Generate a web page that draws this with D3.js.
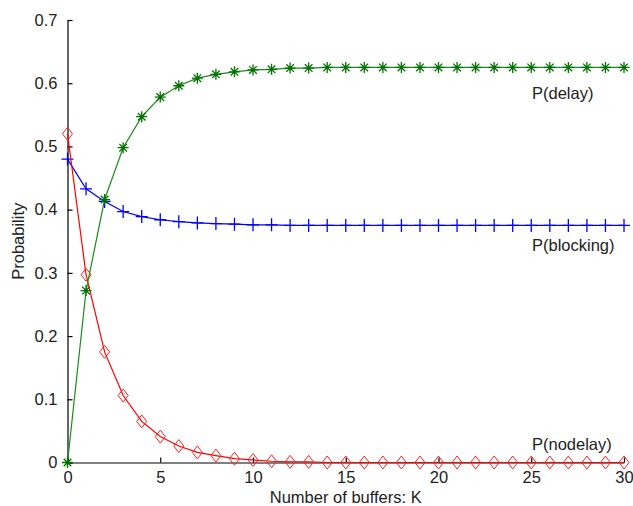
<!DOCTYPE html>
<html>
<head>
<meta charset="utf-8">
<script src="https://cdn.jsdelivr.net/npm/d3@7"></script>
<style>
  html, body { margin: 0; padding: 0; background: #fff; }
  svg { display: block; }
  text { font-family: "Liberation Sans", Arial, sans-serif; font-size: 16.5px; fill: #222; }
</style>
</head>
<body>
<svg id="chart" width="633" height="506"></svg>
<script>
// Number of buffers K
const buffers = [0, 1, 2, 3, 4, 5, 6, 7, 8, 9, 10, 11, 12, 13, 14, 15, 16, 17, 18, 19, 20,
                 21, 22, 23, 24, 25, 26, 27, 28, 29, 30];

// Probability that an arriving call has to wait
const pDelay = [0, 0.272, 0.416, 0.498, 0.547, 0.578, 0.596, 0.608, 0.614, 0.618, 0.621,
                0.622, 0.624, 0.624, 0.625, 0.625, 0.625, 0.625, 0.625, 0.625, 0.625,
                0.625, 0.625, 0.625, 0.625, 0.625, 0.625, 0.625, 0.625, 0.625, 0.625];

// Probability that an arriving call is blocked
const pBlocking = [0.48, 0.433, 0.413, 0.397, 0.389, 0.384, 0.381, 0.379, 0.378, 0.377, 0.376,
                   0.376, 0.375, 0.375, 0.375, 0.375, 0.375, 0.375, 0.375, 0.375, 0.375,
                   0.375, 0.375, 0.375, 0.375, 0.375, 0.375, 0.375, 0.375, 0.375, 0.375];

// Probability that an arriving call is served immediately
const pNodelay = [0.52, 0.297, 0.175, 0.106, 0.065, 0.041, 0.026, 0.016, 0.011, 0.006, 0.004,
                  0.002, 0.001, 0.001, 0, 0, 0, 0, 0, 0, 0,
                  0, 0, 0, 0, 0, 0, 0, 0, 0, 0];

const xTicks = [0, 5, 10, 15, 20, 25, 30];
const yTicks = [0, 0.1, 0.2, 0.3, 0.4, 0.5, 0.6, 0.7];

const svg = d3.select("#chart");

const x = d3.scaleLinear().domain([0, 30]).range([67.5, 624]);
const y = d3.scaleLinear().domain([0, 0.7]).range([462.5, 20]);

// Axes: left and bottom only, ticks pointing inward
const xAxis = svg.append("g")
  .attr("transform", `translate(0,${y(0)})`)
  .call(d3.axisBottom(x).tickValues(xTicks).tickSizeInner(-5).tickSizeOuter(0).tickPadding(10)
        .tickFormat(d3.format("d")));
const yAxis = svg.append("g")
  .attr("transform", `translate(${x(0)},0)`)
  .call(d3.axisLeft(y).tickValues(yTicks).tickSizeInner(-5).tickSizeOuter(0).tickPadding(10)
        .tickFormat(d => d === 0 ? "0" : d3.format(".1f")(d)));

[xAxis, yAxis].forEach(g => {
  g.selectAll("path.domain").attr("stroke", "#000").attr("stroke-width", 1.2);
  g.selectAll(".tick line").attr("stroke", "#000").attr("stroke-width", 1.2);
  g.selectAll(".tick text").attr("font-size", 16.5).attr("font-family", "Liberation Sans, Arial, sans-serif")
    .attr("fill", "#222");
});
xAxis.selectAll(".tick text").attr("y", 20).attr("dy", 0);

// Axis titles
svg.append("text")
  .attr("x", (x(0) + x(30)) / 2).attr("y", 503)
  .attr("text-anchor", "middle")
  .text("Number of buffers: K");
svg.append("text")
  .attr("transform", `translate(24,${(y(0) + y(0.7)) / 2}) rotate(-90)`)
  .attr("text-anchor", "middle")
  .text("Probability");

const line = vals => d3.line().x((d, i) => x(buffers[i])).y(d => y(d))(vals);

// Blocking: blue line with plus markers
svg.append("path").attr("d", line(pBlocking))
  .attr("fill", "none").attr("stroke", "#0000ff").attr("stroke-width", 1.2);
svg.append("g").selectAll("path").data(pBlocking).join("path")
  .attr("transform", (d, i) => `translate(${x(buffers[i])},${y(d)})`)
  .attr("d", "M-6,0H6M0,-6.5V6.5")
  .attr("stroke", "#0000ff").attr("stroke-width", 1.3).attr("fill", "none");

// No delay: red line with diamond markers
svg.append("path").attr("d", line(pNodelay))
  .attr("fill", "none").attr("stroke", "#ff0000").attr("stroke-width", 1.2);
svg.append("g").selectAll("path").data(pNodelay).join("path")
  .attr("transform", (d, i) => `translate(${x(buffers[i])},${y(d)})`)
  .attr("d", "M0,-6.5L5,0L0,6.5L-5,0Z")
  .attr("stroke", "#ff2020").attr("stroke-width", 1).attr("fill", "none");

// Delay: green line with asterisk markers
svg.append("path").attr("d", line(pDelay))
  .attr("fill", "none").attr("stroke", "#1a8c1a").attr("stroke-width", 1.2);
svg.append("g").selectAll("path").data(pDelay).join("path")
  .attr("transform", (d, i) => `translate(${x(buffers[i])},${y(d)})`)
  .attr("d", "M-5.5,0H5.5M0,-5.5V5.5M-3.8,-3.8L3.8,3.8M-3.8,3.8L3.8,-3.8")
  .attr("stroke", "#007000").attr("stroke-width", 1.3).attr("fill", "none");

// Series labels
const labels = [
  { text: "P(delay)", v: 0.625, dy: 32 },
  { text: "P(blocking)", v: 0.375, dy: 26 },
  { text: "P(nodelay)", v: 0, dy: -13 }
];
svg.append("g").selectAll("text").data(labels).join("text")
  .attr("x", 532).attr("y", d => y(d.v) + d.dy)
  .text(d => d.text);
</script>
</body>
</html>
